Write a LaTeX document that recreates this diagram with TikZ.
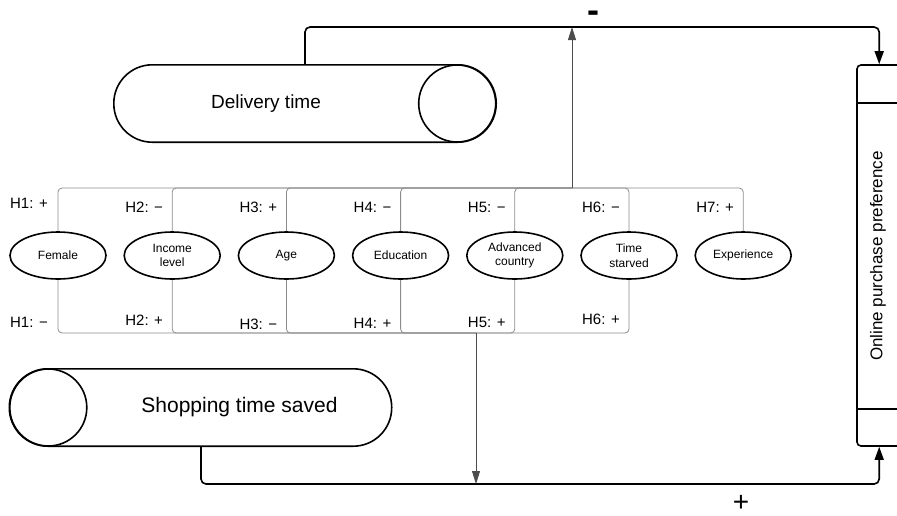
\documentclass[tikz,border=0pt]{standalone}
\usepackage{fontspec}
\setmainfont{Liberation Sans}
\usetikzlibrary{arrows.meta, positioning, shapes.geometric}

\begin{document}
\begin{tikzpicture}[
    x=1pt, y=-1pt,
    node distance=16.6pt,
    factor/.style={
        draw,
        ellipse,
        line width=1.6pt,
        minimum width=96pt,
        minimum height=47pt,
        inner sep=0pt,
        align=center,
        font=\fontsize{12}{14.5}\selectfont
    },
    drum/.style={
        minimum width=304pt,
        minimum height=77pt,
        inner sep=0pt,
        font=\fontsize{19}{22}\selectfont
    },
    drumline/.style={
        line width=1.6pt
    },
    hyp/.style={
        draw=black!45,
        line width=0.8pt,
        rounded corners=4pt
    },
    hyplab/.style={
        anchor=east,
        inner sep=0pt,
        font=\fontsize{15}{18}\selectfont
    },
    sign/.style={
        inner sep=0pt
    },
    link/.style={
        -{Triangle[length=13pt,width=9pt]},
        line width=1.6pt,
        rounded corners=5pt
    },
    modarrow/.style={
        -{Triangle[length=13pt,width=8pt]},
        draw=black!70,
        line width=0.8pt
    }
]
\useasboundingbox (0,0) rectangle (897,515);

% Outcome
\node[draw, line width=1.6pt, rounded corners=4pt, minimum width=60pt, minimum height=381pt] (opp) at (887,255.5) {};
\node[rotate=90, font=\fontsize{17}{20}\selectfont] (oppt) at (878,256) {Online purchase preference};
\draw[line width=1.6pt] ([yshift=-39pt]opp.north west) -- ([yshift=-39pt]opp.north east);
\draw[line width=1.6pt] ([yshift=38pt]opp.south west) -- ([yshift=38pt]opp.south east);

% Mediators
\node[drum] (dt) at (266,103.5) {Delivery time};
\draw[drumline, rounded corners=38.5pt] (dt.south west) rectangle ([xshift=78pt]dt.north east);
\draw[drumline] ([xshift=39pt]dt.east) circle (38.5pt);

\node[drum, font=\fontsize{21}{24}\selectfont] (st) at (239.5,407.5) {Shopping time saved};
\draw[drumline, rounded corners=38.5pt] ([xshift=-78pt]st.south west) rectangle (st.north east);
\draw[drumline] ([xshift=-39pt]st.west) circle (38.5pt);

% Moderators
\node[factor] (fem) at (58,255.5) {Female};
\node[factor, right=of fem] (inc) {Income\\level};
\node[factor, right=of inc] (age) {Age};
\node[factor, right=of age] (edu) {Education};
\node[factor, right=of edu] (adv) {Advanced\\country};
\node[factor, right=of adv] (tim) {Time\\starved};
\node[factor, right=of tim] (exp) {Experience};

\coordinate (jup) at (572,188);
\coordinate (jdn) at (476,333);
\coordinate (ctop) at (305,27);
\coordinate (cbot) at (201,484);

% Paths
\draw[link] ([xshift=39pt]dt.north) -- (ctop) -| ([xshift=23pt]opp.north west);
\draw[link] ([xshift=-38.5pt]st.south) -- (cbot) -| ([xshift=23pt]opp.south west);
\node[sign, font=\fontsize{36}{36}\selectfont\bfseries] (minus) at (593,17) {-};
\node[sign, font=\fontsize{28}{28}\selectfont] (plus) at (741,503) {+};

% Hypotheses, upper path
\draw[hyp] (fem.north) |- (jup);
\draw[hyp] (inc.north) |- (jup);
\draw[hyp] (age.north) |- (jup);
\draw[hyp] (edu.north) |- (jup);
\draw[hyp] (adv.north) |- (jup);
\draw[hyp] (tim.north) |- (jup);
\draw[hyp] (exp.north) |- (jup);
\draw[modarrow] (jup) -- (jup |- ctop);

\node[hyplab] (h1a) at ([xshift=-10pt,yshift=28pt]fem.north) {H1: +};
\node[hyplab] (h2a) at ([xshift=-9pt,yshift=24pt]inc.north) {H2: −};
\node[hyplab] (h3a) at ([xshift=-9pt,yshift=24pt]age.north) {H3: +};
\node[hyplab] (h4a) at ([xshift=-9pt,yshift=24pt]edu.north) {H4: −};
\node[hyplab] (h5a) at ([xshift=-9pt,yshift=24pt]adv.north) {H5: −};
\node[hyplab] (h6a) at ([xshift=-9pt,yshift=24pt]tim.north) {H6: −};
\node[hyplab] (h7a) at ([xshift=-9pt,yshift=24pt]exp.north) {H7: +};

% Hypotheses, lower path
\draw[hyp] (fem.south) |- (jdn);
\draw[hyp] (inc.south) |- (jdn);
\draw[hyp] (age.south) |- (jdn);
\draw[hyp] (edu.south) |- (jdn);
\draw[hyp] (adv.south) |- (jdn);
\draw[hyp] (tim.south) |- (jdn);
\draw[modarrow] (jdn) -- (jdn |- cbot);

\node[hyplab] (h1b) at ([xshift=-10pt,yshift=-43pt]fem.south) {H1: −};
\node[hyplab] (h2b) at ([xshift=-9pt,yshift=-40pt]inc.south) {H2: +};
\node[hyplab] (h3b) at ([xshift=-9pt,yshift=-45pt]age.south) {H3: −};
\node[hyplab] (h4b) at ([xshift=-9pt,yshift=-44pt]edu.south) {H4: +};
\node[hyplab] (h5b) at ([xshift=-9pt,yshift=-43pt]adv.south) {H5: +};
\node[hyplab] (h6b) at ([xshift=-9pt,yshift=-40pt]tim.south) {H6: +};

\end{tikzpicture}
\end{document}
